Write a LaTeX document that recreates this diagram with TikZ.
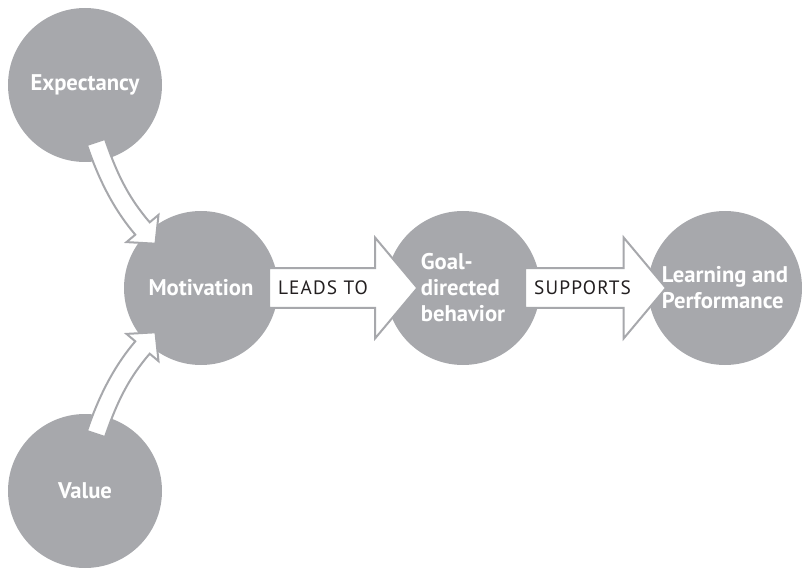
\documentclass[tikz,border=0pt]{standalone}
\usepackage{fontspec}
\setmainfont{PT Sans}
\usetikzlibrary{positioning, shapes.arrows, calc}
\definecolor{circgray}{RGB}{167,168,172}
\definecolor{labelgray}{RGB}{35,31,32}

\begin{document}
\begin{tikzpicture}[x=0.75pt, y=-0.75pt,
    circ/.style={circle, fill=circgray, minimum size=115.5pt, inner sep=0pt, outer sep=0pt, text=white, font=\bfseries\fontsize{17}{19.5}\selectfont},
    blockarrow/.style={single arrow, draw=circgray, line width=1.5pt, fill=white, single arrow head extend=22.9pt, single arrow tip angle=100, inner xsep=6pt, inner ysep=9.4pt, text height=9.5pt, text depth=0pt, text=labelgray, font=\fontsize{14.5}{16}\selectfont\addfontfeatures{LetterSpace=6}},
    bendarrow/.style={draw=circgray, line width=1.5pt, fill=white, line join=miter}]
  \useasboundingbox (0,0) rectangle (802,570);

  \node[circ] (mot) at (201,288) {Motivation};
  \node[circ, right = 81pt of mot, align=left] (goal) {Goal-\\directed\\behavior};
  \node[circ, right = 81pt of goal, align=left] (learn) {Learning and\\Performance};
  \node[circ] (exp) at (85,85) {Expectancy};
  \node[circ] (val) at (85,491) {Value};

  % straight arrows
  \node[blockarrow, anchor=tail, minimum height=108pt] (leads) at ($(mot.east)+(-10,0)$) {LEADS~TO\hspace*{18pt}};
  \node[blockarrow, anchor=tail, minimum height=105.75pt] (supp) at ($(goal.east)+(-16,0)$) {SUPPORTS\hspace*{7pt}};

  % curved arrows into motivation
  \draw[bendarrow] (87,145) -- (105,139) .. controls (117.8,177) and (130.2,199.5) .. (149.7,222.3)
    -- (158.5,214.9) -- (155.5,243.7) -- (126.5,242.1) -- (135.3,234.7)
    .. controls (115.8,211.9) and (99.8,183) .. (87,145) -- cycle;
  \draw[bendarrow] (87,431) -- (105,437) .. controls (117.8,399) and (130.2,376.5) .. (149.7,353.7)
    -- (158.5,361.1) -- (155.5,332.3) -- (126.5,333.9) -- (135.3,341.3)
    .. controls (115.8,364.1) and (99.8,393) .. (87,431) -- cycle;
\end{tikzpicture}
\end{document}
